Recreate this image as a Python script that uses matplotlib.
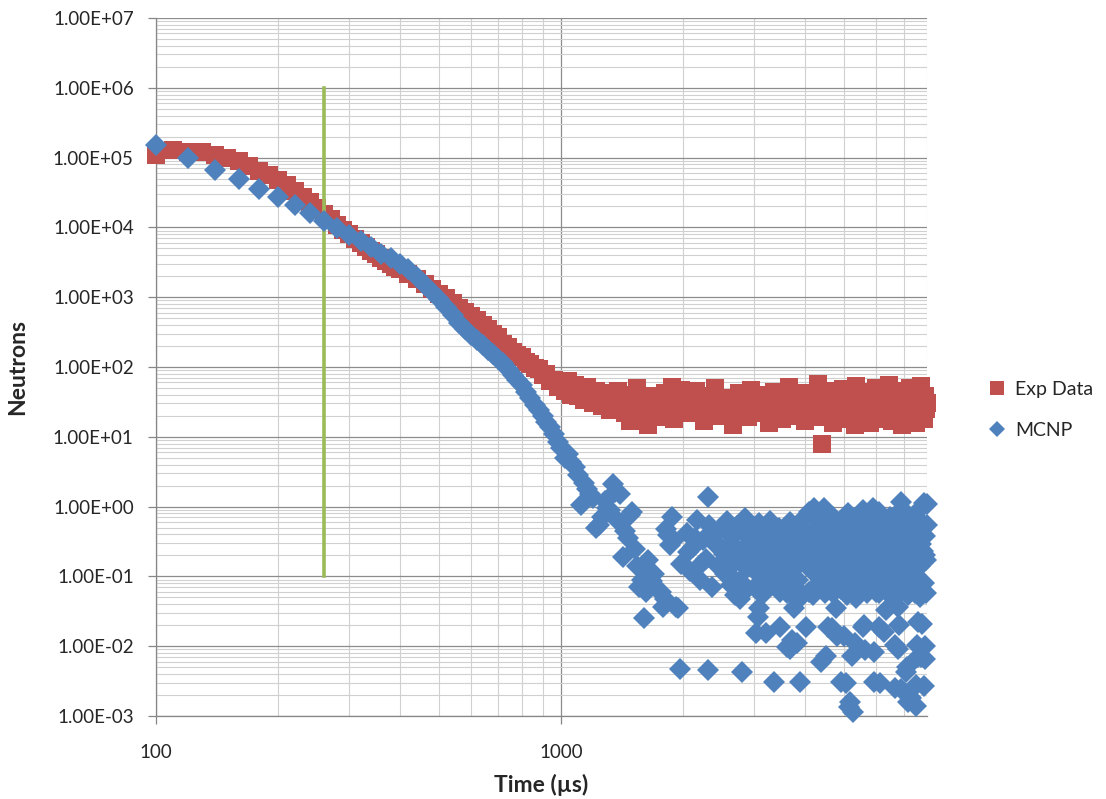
import numpy as np
import matplotlib
matplotlib.use('Agg')
import matplotlib.pyplot as plt
from matplotlib.ticker import LogLocator, FixedLocator, FuncFormatter, NullFormatter

plt.rcParams['font.family'] = ['Lato', 'DejaVu Sans']

# measured decay curve, counts per time bin
exp_time = [
    100, 110, 120, 130, 140, 150, 160, 170, 180, 190, 200, 210, 220, 230, 240, 250,
    260, 270, 280, 290, 300, 310, 320, 330, 340, 350, 360, 370, 380, 390, 400,
    420, 440, 460, 480, 500, 520, 540, 560, 580, 600, 620, 640, 660, 680, 700,
    720, 740, 760, 780, 800, 820, 840, 860, 880, 900, 920, 940, 960, 980, 1000,
    1020, 1040, 1060, 1080, 1100, 1120, 1140, 1160, 1180, 1200, 1220, 1240, 1260, 1280, 1300,
    1320, 1340, 1360, 1380, 1400, 1420, 1440, 1460, 1480, 1500, 1520, 1540, 1560, 1580, 1600,
    1620, 1640, 1660, 1680, 1700, 1720, 1740, 1760, 1780, 1800, 1820, 1840, 1860, 1880, 1900,
    1920, 1940, 1960, 1980, 2000,
    2050, 2100, 2150, 2200, 2250, 2300, 2350, 2400, 2450, 2500,
    2550, 2600, 2650, 2700, 2750, 2800, 2850, 2900, 2950, 3000,
    3050, 3100, 3150, 3200, 3250, 3300, 3350, 3400, 3450, 3500,
    3550, 3600, 3650, 3700, 3750, 3800, 3850, 3900, 3950, 4000,
    4050, 4100, 4150, 4200, 4250, 4300, 4350, 4400, 4450, 4500,
    4550, 4600, 4650, 4700, 4750, 4800, 4850, 4900, 4950, 5000,
    5050, 5100, 5150, 5200, 5250, 5300, 5350, 5400, 5450, 5500,
    5550, 5600, 5650, 5700, 5750, 5800, 5850, 5900, 5950, 6000,
    6050, 6100, 6150, 6200, 6250, 6300, 6350, 6400, 6450, 6500,
    6550, 6600, 6650, 6700, 6750, 6800, 6850, 6900, 6950, 7000,
    7050, 7100, 7150, 7200, 7250, 7300, 7350, 7400, 7450, 7500,
    7550, 7600, 7650, 7700, 7750, 7800, 7850, 7900, 7950, 8000,
]
exp_counts = [
    1.1e5, 1.28e5, 1.22e5, 1.2e5, 1.1e5, 1.0e5, 8.8e4, 7.6e4, 6.5e4, 5.6e4, 4.8e4, 4.0e4, 3.3e4, 2.75e4, 2.3e4, 1.9e4,
    1.55e4, 1.3e4, 1.1e4, 9.3e3, 8.0e3, 6.9e3, 6.0e3, 5.2e3, 4.6e3, 4.1e3, 3.7e3, 3.3e3, 3.0e3, 2.75e3, 2.5e3,
    2150, 1850, 1550, 1320, 1120, 960, 820, 710, 610, 530, 465, 405, 355, 300, 265,
    215, 195, 165, 150, 140, 118, 112, 96, 95, 76, 80, 64, 66, 52, 58,
    45, 62, 40, 55, 38, 48, 34, 52, 41, 30, 46, 36, 28, 42, 33,
    24, 38, 29, 45, 26, 35, 22, 31, 17, 40, 27, 50, 20, 29, 36,
    25, 15, 30, 22, 38, 27, 19, 32, 25, 43, 21, 30, 26, 52, 18,
    28, 33, 24, 47, 29,
    34, 22, 45, 28, 17, 38, 26, 50, 31, 20,
    36, 27, 15, 33, 42, 24, 30, 19, 47, 28,
    35, 22, 40, 26, 16, 32, 44, 25, 29, 18,
    37, 27, 52, 23, 31, 20, 39, 26, 34, 17,
    43, 28, 24, 36, 19, 57, 30, 8, 26, 33,
    21, 45, 29, 16, 38, 25, 31, 20, 48, 27,
    35, 18, 41, 26, 30, 15, 53, 28, 22, 37,
    25, 44, 19, 32, 27, 16, 39, 29, 23, 50,
    26, 34, 18, 42, 28, 21, 36, 25, 55, 30,
    17, 38, 24, 32, 20, 46, 27, 35, 15, 29,
    41, 23, 33, 19, 50, 27, 36, 22, 30, 16,
    44, 26, 34, 21, 53, 28, 18, 38, 25, 31,
]

# MCNP tally, 20 us bins (empty bins left out)
mcnp_time = [
    100, 120, 140, 160, 180, 200, 220, 240, 260, 280, 300, 320, 340, 360, 380, 400,
    420, 440, 460, 480, 500, 520, 540, 560, 580, 600, 620, 640, 660, 680, 700,
    720, 740, 760, 780, 800, 820, 840, 860, 880, 900, 920, 940, 960, 980,
    1000, 1020, 1040, 1060, 1080, 1100, 1120, 1140, 1160, 1180, 1200, 1220, 1240, 1260, 1280,
    1300, 1320, 1340, 1360, 1380, 1400, 1420, 1440, 1460, 1480, 1500, 1520, 1540, 1560, 1580,
    1600, 1620, 1640, 1660, 1680, 1700, 1720, 1760, 1780, 1800, 1820, 1840, 1860, 1880, 1900,
    1920, 1940, 1960, 1980,
]
mcnp_counts = [
    1.5e5, 1.0e5, 6.7e4, 5.0e4, 3.6e4, 2.75e4, 2.1e4, 1.6e4, 1.25e4, 9.8e3, 7.8e3, 6.3e3, 5.2e3, 4.2e3, 3.6e3, 3.0e3,
    2.5e3, 1.95e3, 1.5e3, 1.17e3, 930, 720, 565, 430, 350, 290, 245, 208, 178, 152, 132,
    113, 93, 78, 66, 55, 44, 36, 29, 24, 20, 16.5, 14, 11, 8.5,
    7.0, 5.0, 5.6, 4.3, 3.7, 2.8, 1.05, 2.2, 1.8, 1.5, 1.35, 0.5, 0.55, 0.72, 1.2,
    0.95, 0.88, 2.1, 1.6, 0.62, 1.5, 0.19, 0.45, 0.35, 0.75, 0.83, 0.25, 0.14, 0.07, 0.09,
    0.025, 0.06, 0.17, 0.12, 0.085, 0.11, 0.065, 0.06, 0.037, 0.048, 0.47, 0.39, 0.28, 0.72, 0.33,
    0.037, 0.035, 0.0047, 0.15,
]

# late-time MCNP bins
mcnp_late_time = [
    2040, 2080, 2120, 2160, 2200, 2240, 2280, 2320, 2360, 2400,
    2440, 2480, 2520, 2560, 2600, 2640, 2680, 2720, 2760, 2800,
    2840, 2880, 2920, 2960, 3000, 3040, 3080, 3120, 3160, 3200,
    3240, 3280, 3320, 3360, 3400, 3440, 3480, 3520, 3560, 3600,
    3640, 3680, 3720, 3760, 3800, 3840, 3880, 3920, 3960, 4000,
    4050, 4100, 4150, 4200, 4250, 4300, 4350, 4400, 4450, 4500,
    4550, 4600, 4650, 4700, 4750, 4800, 4850, 4900, 4950, 5000,
    5050, 5100, 5150, 5200, 5250, 5300, 5350, 5400, 5450, 5500,
    5550, 5600, 5650, 5700, 5750, 5800, 5850, 5900, 5950, 6000,
    6050, 6100, 6150, 6200, 6250, 6300, 6350, 6400, 6450, 6500,
    6550, 6600, 6650, 6700, 6750, 6800, 6850, 6900, 6950, 7000,
    7050, 7100, 7150, 7200, 7250, 7300, 7350, 7400, 7450, 7500,
    7550, 7600, 7650, 7700, 7750, 7800, 7850, 7900, 7950, 8000,
    2060, 2140, 2220, 2380, 2460, 2540, 2620, 2700, 2780, 2860,
    2940, 3020, 3100, 3180, 3260, 3340, 3420, 3500, 3580, 3660,
    3740, 3820, 3900, 3980,
    4025, 4125, 4225, 4325, 4425, 4525, 4625, 4725, 4825, 4925,
    5025, 5125, 5225, 5325, 5425, 5525, 5625, 5725, 5825, 5925,
    6025, 6125, 6225, 6325, 6425, 6525, 6625, 6725, 6825, 6925,
    7025, 7125, 7225, 7325, 7425, 7525, 7625, 7725, 7825, 7925,
    2880, 3140, 3300, 3460, 3620, 3780, 3940, 4080, 4180, 4280,
    4480, 4580, 4680, 4880, 5080, 5180, 5280, 5480, 5680, 5780,
    5980, 6080, 6280, 6480, 6580, 6880, 7080, 7180, 7380, 7480,
    7680, 7880, 7960,
]
mcnp_late_counts = [
    0.42, 0.12, 0.26, 0.65, 0.09, 0.33, 0.18, 0.55, 0.071, 0.29,
    0.14, 0.48, 0.21, 0.62, 0.11, 0.37, 0.16, 0.52, 0.085, 0.24,
    0.68, 0.13, 0.31, 0.45, 0.19, 0.075, 0.58, 0.27, 0.15, 0.41,
    0.1, 0.63, 0.22, 0.35, 0.12, 0.5, 0.17, 0.3, 0.07, 0.44,
    0.2, 0.6, 0.13, 0.38, 0.25, 0.09, 0.55, 0.16, 0.33, 0.72,
    0.3, 0.85, 0.12, 0.45, 0.2, 0.62, 0.08, 0.36, 0.95, 0.17,
    0.5, 0.26, 0.1, 0.7, 0.14, 0.4, 0.23, 0.065, 0.55, 0.31,
    0.13, 0.8, 0.19, 0.44, 0.09, 0.28, 0.6, 0.16, 0.37, 0.11,
    0.9, 0.22, 0.48, 0.075, 0.33, 0.15, 0.66, 0.25, 0.12, 0.42,
    0.19, 0.85, 0.07, 0.3, 0.55, 0.14, 0.38, 0.21, 0.1, 0.72,
    0.27, 0.16, 0.47, 0.085, 0.35, 0.6, 0.13, 0.24, 0.92, 0.18,
    0.41, 0.06, 0.29, 0.68, 0.15, 0.36, 0.11, 0.52, 0.2, 0.8,
    0.09, 0.32, 0.45, 0.14, 0.6, 0.23, 0.08, 0.38, 0.17, 0.55,
    0.22, 0.35, 0.15, 0.4, 0.26, 0.11, 0.3, 0.19, 0.46, 0.13,
    0.28, 0.36, 0.1, 0.24, 0.5, 0.17, 0.32, 0.12, 0.4, 0.21,
    0.14, 0.3, 0.45, 0.23,
    0.18, 0.34, 0.25, 0.13, 0.48, 0.3, 0.2, 0.39, 0.11, 0.27,
    0.44, 0.16, 0.33, 0.22, 0.12, 0.5, 0.28, 0.18, 0.4, 0.24,
    0.1, 0.35, 0.19, 0.58, 0.27, 0.15, 0.42, 0.23, 0.31, 0.13,
    0.37, 0.21, 0.12, 0.46, 0.26, 0.34, 0.17, 0.29, 0.5, 0.2,
    0.065, 0.055, 0.08, 0.06, 0.058, 0.07, 0.055, 0.06, 0.055, 0.075,
    0.058, 0.09, 0.058, 0.07, 0.055, 0.085, 0.055, 0.065, 0.058, 0.08,
    0.06, 0.058, 0.07, 0.055, 0.085, 0.058, 0.075, 0.055, 0.065, 0.058,
    0.08, 0.06, 0.058,
]

# sparse late bins (statistical outliers)
mcnp_sparse_time = [
    2300, 2310, 2630, 2690, 2770, 2800, 3020, 3060, 3080, 3200,
    3360, 3370, 3470, 3580, 3600, 3620, 3680, 3710, 3750, 3830,
    3850, 3890, 4030, 4220, 4380, 4500, 4560, 4650, 4770, 4800,
    4920, 4980, 5060, 5140, 5150, 5230, 5260, 5320, 5330, 5560,
    5600, 5640, 5900, 5910, 5930, 6100, 6110, 6270, 6330, 6670,
    6680, 6780, 6800, 6810, 6900, 6910, 7120, 7130, 7200, 7280,
    7300, 7500, 7530, 7540, 7600, 7610, 7700, 7710, 7770, 7850,
    7860, 7900, 7930, 7990,
]
mcnp_sparse_counts = [
    1.38, 0.0045, 0.075, 0.054, 0.048, 0.0042, 0.0155, 0.026, 0.035, 0.0155,
    0.0031, 0.095, 0.019, 0.23, 0.0098, 0.12, 0.0091, 0.0124, 0.035, 0.011,
    0.046, 0.0031, 0.019, 0.95, 0.006, 0.0073, 0.019, 0.018, 0.035, 0.0138,
    0.0031, 0.014, 0.003, 0.00135, 0.0016, 0.0073, 0.00115, 0.011, 0.049, 0.019,
    0.02, 0.0089, 0.95, 0.0082, 0.0031, 0.019, 0.003, 0.016, 0.033, 0.0025,
    0.0104, 0.037, 0.0091, 0.02, 1.17, 0.0024, 0.0043, 0.0051, 0.0016, 0.0019,
    0.0018, 0.0014, 0.0028, 0.0104, 0.0071, 0.022, 0.051, 0.007, 0.021, 1.12,
    0.0027, 0.0102, 0.0066, 1.1,
]

marker_time = 260
marker_range = [0.1, 1e6]

red = '#C0504D'
blue = '#4F81BD'
green = '#9BBB59'

fig = plt.figure(figsize=(11.06, 7.99), dpi=100)
ax = fig.add_axes([156 / 1106, 1 - 716 / 799, (927 - 156) / 1106, (716 - 18) / 799])

ax.plot(exp_time, exp_counts, 's', color=red, ms=13.5, mew=0, clip_on=False,
        label='Exp Data', zorder=3)
ax.plot([marker_time, marker_time], marker_range, color=green, lw=2.6, zorder=4)
mcnp_t = mcnp_time + mcnp_late_time + mcnp_sparse_time
mcnp_n = mcnp_counts + mcnp_late_counts + mcnp_sparse_counts
ax.plot(mcnp_t, mcnp_n, 'D', color=blue, ms=11, mew=0, clip_on=False,
        label='MCNP', zorder=5)

ax.set_xscale('log')
ax.set_yscale('log')
ax.set_xlim(100, 8000)
ax.set_ylim(1e-3, 1e7)

ax.xaxis.set_major_locator(FixedLocator([100, 1000]))
ax.xaxis.set_major_formatter(FuncFormatter(lambda v, p: f"{v:.0f}"))
ax.xaxis.set_minor_locator(LogLocator(base=10, subs=np.arange(2, 10), numticks=50))
ax.xaxis.set_minor_formatter(NullFormatter())
ax.yaxis.set_major_locator(LogLocator(base=10, numticks=20))
ax.yaxis.set_major_formatter(FuncFormatter(lambda v, p: f"{v:.2E}"))
ax.yaxis.set_minor_locator(LogLocator(base=10, subs=np.arange(2, 10), numticks=100))
ax.yaxis.set_minor_formatter(NullFormatter())

ax.grid(which='major', color='#8C8C8C', lw=0.9)
ax.grid(which='minor', color='#D0D0D0', lw=0.8)
ax.set_axisbelow(True)

for side in ['top', 'right']:
    ax.spines[side].set_visible(False)
for side in ['left', 'bottom']:
    ax.spines[side].set_color('#868686')
    ax.spines[side].set_linewidth(0.9)

ax.tick_params(which='major', length=6, width=0.9, color='#868686',
               labelsize=13.5, labelcolor='#262626')
ax.tick_params(axis='y', which='major', pad=10)
ax.tick_params(axis='x', which='major', pad=14)
ax.tick_params(which='minor', length=0)

ax.set_xlabel('Time (µs)', fontsize=16.5, fontweight='bold', color='#262626')
ax.set_ylabel('Neutrons', fontsize=16.5, fontweight='bold', color='#262626')
ax.xaxis.set_label_coords(0.5, -0.099)
ax.yaxis.set_label_coords(-0.179, 0.5)
ax.xaxis.label.set_va('center')
ax.yaxis.label.set_va('center')

ax.legend(loc='center left', bbox_to_anchor=(978 / 1106, 1 - 410 / 799),
          bbox_transform=fig.transFigure, frameon=False, fontsize=14,
          handlelength=1.0, handletextpad=0.4, labelspacing=1.25, borderpad=0,
          markerscale=0.78, labelcolor='#262626')

fig.savefig('out.png', dpi=100)
